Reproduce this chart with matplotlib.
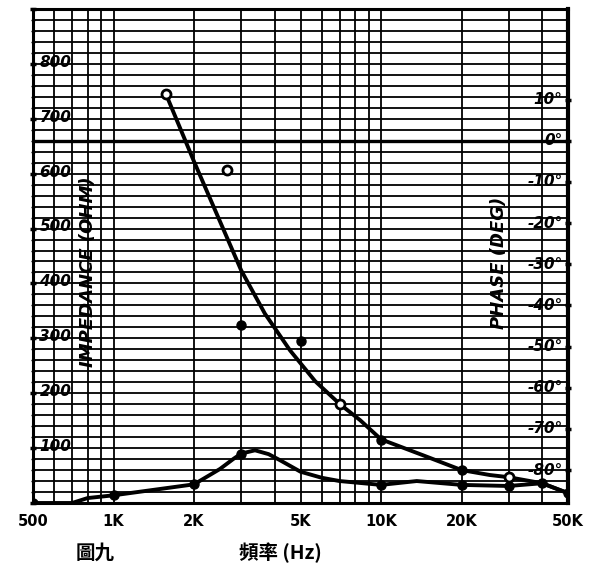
import matplotlib
matplotlib.use("Agg")
import matplotlib.pyplot as plt
import matplotlib.transforms as mtransforms

# ---- data ----
freq_upper = [1570, 2000, 3000, 3680, 4570, 5670, 7020, 8350, 10000,
              14350, 20000, 25500, 30000, 40000, 50000]
imp_upper = [745, 622, 424, 345, 278, 222, 180, 151, 116,
             87, 60, 51, 47, 36, 18]

freq_lower = [500, 700, 800, 1000, 2000, 2500, 2800, 3000, 3380, 3800, 4190,
              5000, 6000, 7000, 10000, 13600, 20000, 30000, 40000, 50000]
imp_lower = [0, 0, 9, 14, 34, 62, 80, 90, 96, 89, 78,
             57, 46, 40, 33, 40, 33, 31, 36, 18]

open_freq = [1570, 2650, 7000, 30000]
open_imp = [745, 607, 180, 47]

filled_freq = [500, 1000, 2000, 3000, 10000, 20000, 30000, 40000,
               10000, 20000, 50000, 3000, 5000]
filled_imp = [0, 14, 34, 90, 33, 33, 31, 36,
              115, 60, 18, 324, 295]

x_tick_vals = [500, 1000, 2000, 5000, 10000, 20000, 50000]
x_tick_labels = ["500", "1K", "2K", "5K", "10K", "20K", "50K"]
x_grid_vals = [500, 600, 700, 800, 900, 1000, 2000, 3000, 4000, 5000, 6000,
               7000, 8000, 9000, 10000, 20000, 30000, 40000, 50000]
imp_labels = [100, 200, 300, 400, 500, 600, 700, 800]
phase_labels = [10, 0, -10, -20, -30, -40, -50, -60, -70, -80]
phase_zero_imp = 660     # impedance level of the 0 deg phase line
imp_per_deg = 7.5

# ---- figure ----
fig = plt.figure(figsize=(6.0, 5.66), dpi=100)
ax = fig.add_axes([33 / 600, 63 / 566, 535 / 600, 494 / 566])
ax.set_xscale("log")
ax.set_xlim(500, 50000)
ax.set_ylim(0, 900)

# grid
ax.set_xticks(x_tick_vals)
ax.set_xticklabels(x_tick_labels, fontsize=10.5, fontweight="bold",
                   family="DejaVu Sans")
ax.set_xticks(x_grid_vals, minor=True)
ax.xaxis.set_minor_formatter(plt.NullFormatter())
ax.set_yticks(range(0, 901, 100))
ax.set_yticks(range(0, 901, 20), minor=True)
ax.set_yticklabels([])
ax.grid(True, which="both", color="black", linewidth=1.3)
ax.tick_params(axis="x", which="both", length=0, pad=8)
ax.tick_params(axis="y", which="major", direction="inout", length=5, width=2.5)
ax.tick_params(axis="y", which="minor", direction="inout", length=3, width=1)
ax.axhline(phase_zero_imp, color="black", linewidth=2.4)
for s in ax.spines.values():
    s.set_linewidth(2.2)
ax.spines["right"].set_linewidth(3)

# curves
ax.plot(freq_upper, imp_upper, color="black", linewidth=2.8,
        solid_joinstyle="round", solid_capstyle="round", zorder=5)
ax.plot(freq_lower, imp_lower, color="black", linewidth=2.8,
        solid_joinstyle="round", solid_capstyle="round", zorder=5)
ax.plot(open_freq, open_imp, linestyle="none", marker="o", markersize=6.5,
        markerfacecolor="white", markeredgecolor="black",
        markeredgewidth=2, zorder=6)
ax.plot(filled_freq, filled_imp, linestyle="none", marker="o", markersize=6.5,
        color="black", zorder=6)

# left scale labels (inside plot)
trans_l = mtransforms.blended_transform_factory(ax.transAxes, ax.transData)
for v in imp_labels:
    ax.text(0.012, v + 3, str(v), transform=trans_l, ha="left", va="center",
            fontsize=11, fontweight="bold", fontstyle="italic", zorder=7)

# right phase axis
ax2 = ax.twinx()
ax2.set_ylim((0 - phase_zero_imp) / imp_per_deg,
             (900 - phase_zero_imp) / imp_per_deg)
ax2.set_yticks(phase_labels)
ax2.set_yticklabels([])
ax2.tick_params(axis="y", direction="inout", length=5, width=2.5)
for s in ax2.spines.values():
    s.set_visible(False)
trans_r = mtransforms.blended_transform_factory(ax2.transAxes, ax2.transData)
for p in phase_labels:
    ax2.text(0.99, p, f"{p}\u00b0", transform=trans_r, ha="right",
             va="center", fontsize=11, fontstyle="italic", fontweight="bold",
             zorder=7)

# axis titles
fig.text(88 / 600, 1 - 272 / 566, "IMPEDANCE (OHM)", rotation=90,
         ha="center", va="center", fontsize=13, fontstyle="italic",
         fontweight="bold")
fig.text(499 / 600, 1 - 263 / 566, "PHASE (DEG)", rotation=90,
         ha="center", va="center", fontsize=13, fontstyle="italic",
         fontweight="bold")

cjk = ["Noto Sans CJK TC", "DejaVu Sans"]
fig.text(95 / 600, 1 - 553 / 566, "圖九", ha="center", va="center",
         fontsize=14, fontweight="bold", family=cjk)
fig.text(280 / 600, 1 - 553 / 566, "頻率 (Hz)", ha="center", va="center",
         fontsize=14, fontweight="bold", family=cjk)

fig.savefig("out.png", dpi=100, facecolor="white")
